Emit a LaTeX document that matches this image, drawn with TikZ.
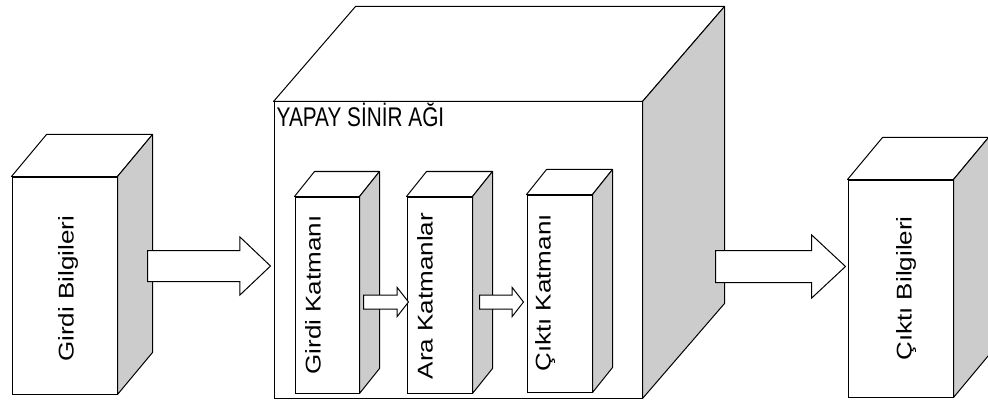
\documentclass[tikz,border=0pt]{standalone}
\usepackage{fontspec}
\usepackage{graphicx}
\setmainfont{Liberation Sans}
\usetikzlibrary{shapes.arrows,positioning}
\definecolor{sidegray}{RGB}{204,204,204}
\definecolor{ink}{RGB}{0,0,0}
\tikzset{
  front/.style={
    draw=ink,
    line width=1pt,
    fill=white,
    inner sep=0pt,
    minimum width=#1
  },
  topface/.style={draw=ink, line width=1pt, fill=white, line join=round},
  sideface/.style={draw=ink, line width=1pt, fill=sidegray, line join=round},
  fatarrow/.style={
    single arrow,
    draw=ink,
    line width=1pt,
    fill=white,
    inner sep=0pt,
    text height=#1,
    text depth=0pt,
    single arrow head indent=0pt,
    anchor=tail
  },
  vlabel/.style={rotate=90, anchor=base, inner sep=0pt, font=\fontsize{26}{26}\selectfont},
  title/.style={anchor=base west, inner sep=0pt, font=\fontsize{27}{27}\selectfont}
}
\newcommand\cubefaces[3]{%
  \draw[topface] (#1.north west) -- ++(#2,#3) -- ([shift={(#2,#3)}]#1.north east) -- (#1.north east) -- cycle;
  \draw[sideface] (#1.north east) -- ++(#2,#3) -- ([shift={(#2,#3)}]#1.south east) -- (#1.south east) -- cycle;
}
\newcommand\vtext[1]{\scalebox{1}[0.82]{#1}}

\begin{document}
\begin{tikzpicture}[x=1pt,y=-1pt]
\useasboundingbox (0,0) rectangle (988,401);

% outer boxes
\node[front=105pt, minimum height=217pt] (inp) at (64.5,285.5) {};
\cubefaces{inp}{35}{-42}
\node[front=368pt, minimum height=296pt] (net) at (458,250) {};
\cubefaces{net}{82}{-95}
\node[front=105pt, minimum height=217pt] (out) at (900.5,288.5) {};
\cubefaces{out}{35}{-42}

% layers
\node[front=64pt, minimum height=196pt] (l1) at (327,295) {};
\cubefaces{l1}{20}{-25}
\node[front=65pt, minimum height=196pt] (l2) at (439.5,295) {};
\cubefaces{l2}{20}{-25}
\node[front=65pt, minimum height=197pt] (l3) at (559.5,293.5) {};
\cubefaces{l3}{20}{-25}

\node[title] (ttl) at ([shift={(3,25)}]net.north west) {\scalebox{0.77}[1]{YAPAY SİNİR AĞI}};

\node[vlabel] (tinp) at ([shift={(62,3.5)}]inp.west) {\vtext{Girdi Bilgileri}};
\node[vlabel] (tout) at ([shift={(64,0)}]out.west) {\vtext{Çıktı Bilgileri}};
\node[vlabel] (tl1) at ([shift={(26,0)}]l1.west) {\vtext{Girdi Katmanı}};
\node[vlabel] (tl2) at ([shift={(26,1)}]l2.west) {\vtext{Ara Katmanlar}};
\node[vlabel] (tl3) at ([shift={(24,-0.5)}]l3.west) {\vtext{Çıktı Katmanı}};

% arrows
\node[fatarrow=30pt, minimum height=123pt, single arrow head extend=13.5pt,
  single arrow tip angle=87] (arrIn) at (147,266) {};
\node[fatarrow=31pt, minimum height=130pt, single arrow head extend=15.5pt,
  single arrow tip angle=86] (arrOut) at (715,266.5) {};
\node[fatarrow=13pt, minimum height=45pt, single arrow head extend=7.5pt,
  single arrow tip angle=104] (arrL1) at (363,302) {};
\node[fatarrow=13pt, minimum height=44pt, single arrow head extend=7.5pt,
  single arrow tip angle=104] (arrL2) at (479,302) {};

\end{tikzpicture}
\end{document}
